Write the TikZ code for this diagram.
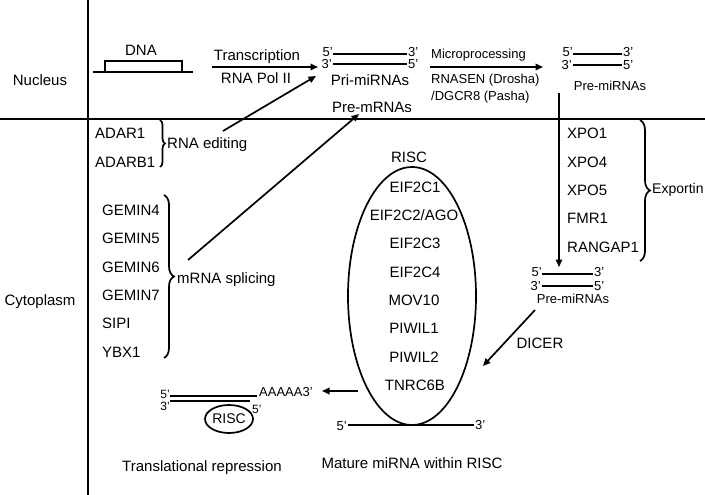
\documentclass[tikz,border=0pt]{standalone}
\usepackage{fontspec}
\setmainfont{Liberation Sans}
\usetikzlibrary{arrows.meta,decorations.pathreplacing,shapes.geometric}
\tikzset{
  lw/.style={line width=1.7pt},
  arr/.style={line width=1.7pt,-{Triangle[length=7.5pt,width=6.5pt]}},
  txt/.style={inner sep=0pt,font=\fontsize{15}{18}\selectfont},
  sm/.style={inner sep=0pt,font=\fontsize{13}{15}\selectfont},
  tiny/.style={inner sep=0pt,font=\fontsize{12}{14}\selectfont},
  brc/.style={line width=1.7pt,decorate,decoration={brace,amplitude=#1}},
}
\begin{document}
\begin{tikzpicture}[x=1pt,y=-1pt]
\useasboundingbox (0,0) rectangle (705,495);
% dividers
\draw[lw] (88,0) -- (88,495);
\draw[lw] (0,119) -- (705,119);
\node[txt] (nucleus) at (40,80) {Nucleus};
\node[txt] (cyto) at (40,302) {Cytoplasm};
% DNA
\draw[lw] (93,72) -- (193,72);
\draw[lw] (105,72) -- (105,61) -- (182,61) -- (182,72);
\node[txt] (dna) at (141,50) {DNA};
% transcription
\coordinate (trA) at (212,67);
\coordinate (trB) at (318,67);
\draw[arr] (trA) -- (trB);
\node[txt] (trans) at (257,57) {Transcription};
\node[txt] (pol) at (256,78) {RNA Pol II};
% pri-miRNAs
\coordinate (priA1) at (333,54); \coordinate (priA2) at (407,54);
\coordinate (priB1) at (333,64); \coordinate (priB2) at (407,64);
\draw[lw] (priA1) -- (priA2);
\draw[lw] (priB1) -- (priB2);
\node[sm,anchor=east] (priL5) at (333,52) {5’};
\node[sm,anchor=east] (priL3) at (332,64) {3’};
\node[sm,anchor=west] (priR3) at (408,52) {3’};
\node[sm,anchor=west] (priR5) at (408,64) {5’};
\node[txt] (pri) at (370,80) {Pri-miRNAs};
% microprocessing
\coordinate (mpA) at (430,67);
\coordinate (mpB) at (543,67);
\draw[arr] (mpA) -- (mpB);
\node[sm,anchor=west] (micro) at (431,55) {Microprocessing};
\node[sm,anchor=west] (rnasen) at (431,80) {RNASEN (Drosha)};
\node[sm,anchor=west] (dgcr) at (431,97) {/DGCR8 (Pasha)};
% pre-miRNAs nucleus
\coordinate (npA1) at (573,54); \coordinate (npA2) at (622,54);
\coordinate (npB1) at (573,65); \coordinate (npB2) at (622,65);
\draw[lw] (npA1) -- (npA2);
\draw[lw] (npB1) -- (npB2);
\node[sm,anchor=east] (npL5) at (573,52) {5’};
\node[sm,anchor=east] (npL3) at (572,65) {3’};
\node[sm,anchor=west] (npR3) at (623,52) {3’};
\node[sm,anchor=west] (npR5) at (623,65) {5’};
\node[sm] (prenuc) at (610,86) {Pre-miRNAs};
% export arrow
\coordinate (exA) at (559,93);
\coordinate (exB) at (559,267);
\draw[arr] (exA) -- (exB);
% exportin list
\node[txt,anchor=west] (xpo1) at (567,133) {XPO1};
\node[txt,anchor=west] (xpo4) at (567,162) {XPO4};
\node[txt,anchor=west] (xpo5) at (567,190) {XPO5};
\node[txt,anchor=west] (fmr1) at (567,218) {FMR1};
\node[txt,anchor=west] (rangap) at (567,247) {RANGAP1};
\coordinate (ebA) at (640,120); \coordinate (ebB) at (640,261);
\draw[brc=10pt] (ebA) -- (ebB);
\node[inner sep=0pt,font=\fontsize{14}{16}\selectfont,anchor=west] (exportin) at (652,190) {Exportin};
% pre-miRNAs cytoplasm
\coordinate (cpA1) at (542,274); \coordinate (cpA2) at (593,274);
\coordinate (cpB1) at (542,286); \coordinate (cpB2) at (593,286);
\draw[lw] (cpA1) -- (cpA2);
\draw[lw] (cpB1) -- (cpB2);
\node[sm,anchor=east] (cpL5) at (542,272) {5’};
\node[sm,anchor=east] (cpL3) at (541,286) {3’};
\node[sm,anchor=west] (cpR3) at (594,272) {3’};
\node[sm,anchor=west] (cpR5) at (594,286) {5’};
\node[sm] (precyt) at (573,299) {Pre-miRNAs};
% DICER
\coordinate (dcA) at (535,310);
\coordinate (dcB) at (483,366);
\draw[arr] (dcA) -- (dcB);
\node[txt] (dicer) at (540,343) {DICER};
% RISC ellipse
\draw[lw] (412,296) ellipse [x radius=64, y radius=129];
\node[txt] (risclab) at (409,157) {RISC};
\node[txt] (e1) at (415,187) {EIF2C1};
\node[txt] (e2) at (414,215) {EIF2C2/AGO};
\node[txt] (e3) at (415,243) {EIF2C3};
\node[txt] (e4) at (415,272) {EIF2C4};
\node[txt] (mov) at (414,300) {MOV10};
\node[txt] (pw1) at (414,328) {PIWIL1};
\node[txt] (pw2) at (414,357) {PIWIL2};
\node[txt] (tn) at (415,385) {TNRC6B};
% mature miRNA
\coordinate (mmA) at (348,425); \coordinate (mmB) at (474,425);
\draw[lw] (mmA) -- (mmB);
\node[sm,anchor=east] (mm5) at (347,426) {5’};
\node[sm,anchor=west] (mm3) at (475,425) {3’};
\node[txt] (mature) at (412,463) {Mature miRNA within RISC};
% translational repression
\coordinate (trrA) at (358,391); \coordinate (trrB) at (322,391);
\draw[arr] (trrA) -- (trrB);
\coordinate (tlA1) at (170,396); \coordinate (tlA2) at (257,396);
\coordinate (tlB1) at (170,401); \coordinate (tlB2) at (250,401);
\draw[lw] (tlA1) -- (tlA2);
\draw[lw] (tlB1) -- (tlB2);
\node[tiny,anchor=east] (tl5) at (170,394) {5’};
\node[tiny,anchor=east] (tl3) at (170,406) {3’};
\node[sm,anchor=west] (polyA) at (259,392) {AAAAA3’};
\node[tiny,anchor=west] (tlR5) at (252,409) {5’};
\node[inner sep=0pt,font=\fontsize{14}{16}\selectfont,draw,lw,ellipse,minimum width=48pt,minimum height=28pt] (smallrisc) at (229,419) {RISC};
\node[txt] (transrep) at (202,468) {Translational repression};
% RNA editing
\node[txt,anchor=west] (adar1) at (95,133) {ADAR1};
\node[txt,anchor=west] (adarb1) at (95,162) {ADARB1};
\coordinate (abA) at (160,120); \coordinate (abB) at (160,167);
\draw[brc=5pt] (abA) -- (abB);
\node[txt,anchor=west] (editing) at (167,145) {RNA editing};
\coordinate (edA) at (223,131);
\coordinate (edB) at (316,76);
\draw[arr] (edA) -- (edB);
% mRNA splicing
\node[txt,anchor=west] (g4) at (102,210) {GEMIN4};
\node[txt,anchor=west] (g5) at (102,238) {GEMIN5};
\node[txt,anchor=west] (g6) at (102,267) {GEMIN6};
\node[txt,anchor=west] (g7) at (102,295) {GEMIN7};
\node[txt,anchor=west] (sipi) at (102,323) {SIPI};
\node[txt,anchor=west] (ybx) at (102,352) {YBX1};
\coordinate (sbA) at (164,195); \coordinate (sbB) at (164,358);
\draw[brc=10pt] (sbA) -- (sbB);
\node[txt,anchor=west] (splicing) at (177,280) {mRNA splicing};
\coordinate (spA) at (188,260);
\coordinate (spB) at (359,114);
\draw[arr] (spA) -- (spB);
\node[txt] (premrna) at (372,107) {Pre-mRNAs};
\end{tikzpicture}
\end{document}
